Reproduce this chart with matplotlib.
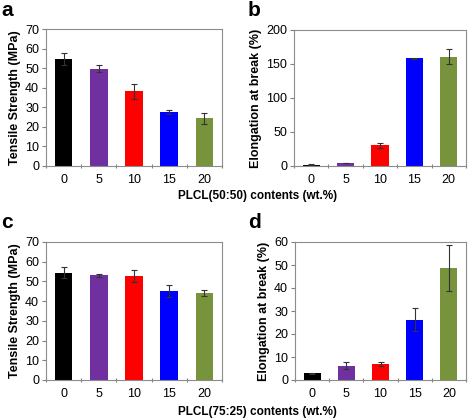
import matplotlib
matplotlib.use("Agg")
import matplotlib.pyplot as plt
import numpy as np

plt.rcParams['font.family'] = ['Liberation Sans', 'DejaVu Sans']

categories = ['0', '5', '10', '15', '20']
colors = ['#000000', '#7030A0', '#FF0000', '#0000FF', '#77933C']

ts_5050 = [54.5, 49.8, 38.2, 27.8, 24.5]
ts_5050_err = [3.0, 1.8, 3.8, 1.0, 2.8]
el_5050 = [2.0, 4.5, 30.5, 158.5, 160.5]
el_5050_err = [0.5, 0.6, 3.5, 1.0, 11.0]
ts_7525 = [54.5, 53.2, 52.8, 45.0, 44.2]
ts_7525_err = [3.0, 0.8, 3.0, 3.0, 1.5]
el_7525 = [3.0, 6.3, 7.0, 26.3, 48.7]
el_7525_err = [0.2, 1.7, 1.0, 5.0, 9.8]

W, H = 472, 420
fig = plt.figure(figsize=(W / 100, H / 100), dpi=100)

def px_axes(l, t, r, b):
    return fig.add_axes([l / W, 1 - b / H, (r - l) / W, (b - t) / H])

def draw(ax, vals, errs, ymax, ystep, ylabel):
    x = np.arange(len(categories))
    ax.bar(x, vals, width=0.5, color=colors, zorder=2)
    ax.errorbar(x, vals, yerr=errs, fmt='none', ecolor='#333333',
                elinewidth=0.8, capsize=2.5, capthick=0.8, zorder=3)
    ax.set_xlim(-0.5, len(categories) - 0.5)
    ax.set_ylim(0, ymax)
    ax.set_yticks(np.arange(0, ymax + 0.1, ystep))
    ax.set_xticks(x)
    ax.set_xticklabels(categories)
    ax.set_xticks(np.arange(-0.5, len(categories), 1.0), minor=True)
    ax.tick_params(axis='x', which='major', length=0, pad=6, labelsize=9)
    ax.tick_params(axis='x', which='minor', length=3, width=0.8, color='#808080', direction='inout')
    ax.tick_params(axis='y', length=3, width=0.8, color='#808080', labelsize=9, pad=2)
    for s in ax.spines.values():
        s.set_color('#8c8c8c')
        s.set_linewidth(0.8)
    ax.set_ylabel(ylabel, fontsize=9, fontweight='bold', labelpad=3)

ax_a = px_axes(46, 29, 222, 166)
draw(ax_a, ts_5050, ts_5050_err, 70, 10, 'Tensile Strength (MPa)')
ax_b = px_axes(294, 30, 466, 166)
draw(ax_b, el_5050, el_5050_err, 200, 50, 'Elongation at break (%)')
ax_c = px_axes(46, 242, 222, 380)
draw(ax_c, ts_7525, ts_7525_err, 70, 10, 'Tensile Strength (MPa)')
ax_d = px_axes(295, 242, 466, 380)
draw(ax_d, el_7525, el_7525_err, 60, 10, 'Elongation at break (%)')

fig.text(258 / W, 1 - 196 / H, 'PLCL(50:50) contents (wt.%)', ha='center', va='center',
         fontsize=8.5, fontweight='bold')
fig.text(257 / W, 1 - 412 / H, 'PLCL(75:25) contents (wt.%)', ha='center', va='center',
         fontsize=8.5, fontweight='bold')

for lx, ly, lab in [(1, 10, 'a'), (248, 10, 'b'), (1, 222, 'c'), (248, 222, 'd')]:
    fig.text(lx / W, 1 - ly / H, lab, ha='left', va='center', fontsize=15, fontweight='bold')

fig.savefig('out.png', dpi=100)
